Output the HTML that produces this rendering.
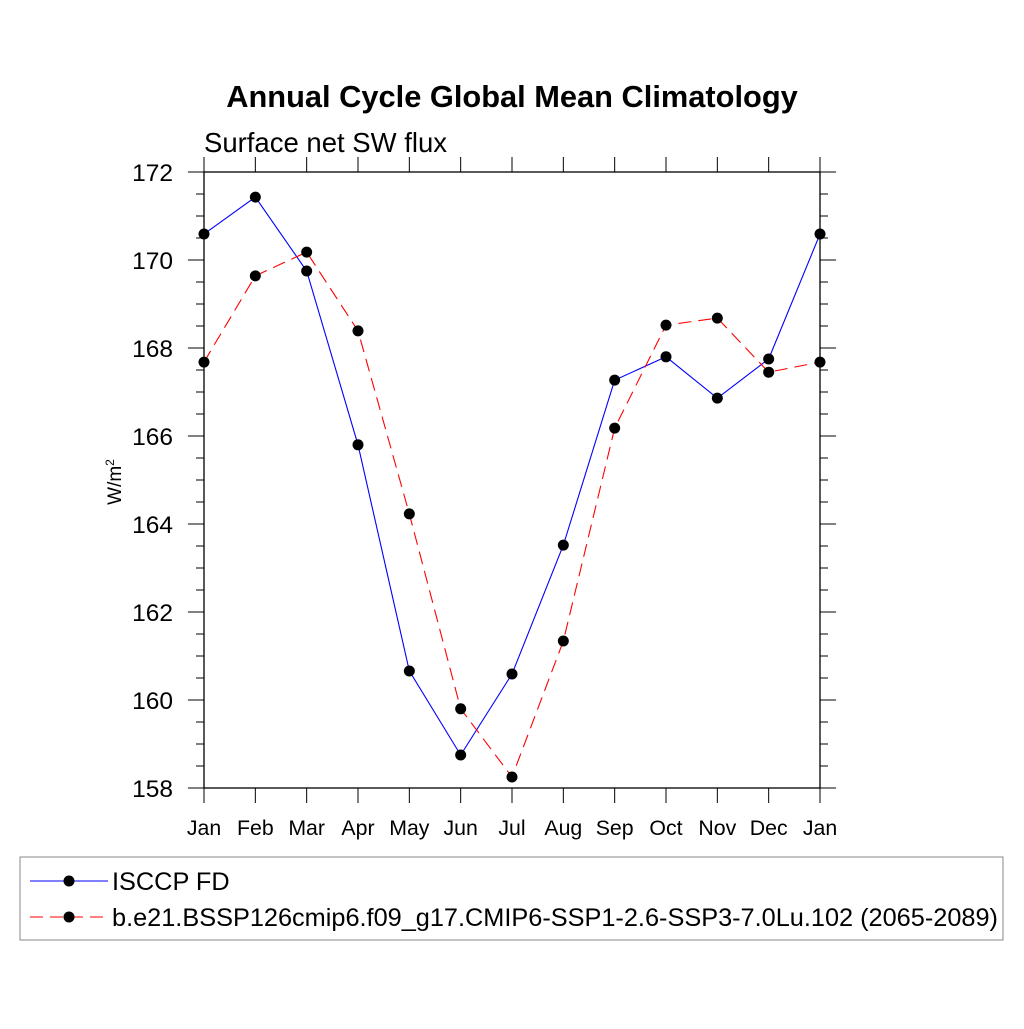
<!DOCTYPE html>
<html><head><meta charset="utf-8"><style>
body{margin:0;background:#fff}
svg text{font-family:"Liberation Sans",sans-serif}
</style></head><body>
<svg id="c" width="1024" height="1024" xmlns="http://www.w3.org/2000/svg">
<text x="512" y="107" text-anchor="middle" font-size="30.8" font-weight="bold">Annual Cycle Global Mean Climatology</text>
<text x="204" y="152" font-size="27.5">Surface net SW flux</text>
<text transform="translate(121,482) rotate(-90)" text-anchor="middle" font-size="19">W/m<tspan dy="-7" font-size="12">2</tspan></text>
<g id="axes"></g><g id="series"></g>
<rect x="20" y="857" width="983" height="83" fill="none" stroke="#888"/>
<g>
<line x1="30" y1="881" x2="108" y2="881" stroke="#00f"/><circle cx="69" cy="881" r="5.5" fill="#000"/>
<text x="112" y="890" font-size="25.3">ISCCP FD</text></g>
<g>
<line x1="30" y1="917" x2="108" y2="917" stroke="#f00" stroke-dasharray="13,7"/><circle cx="69" cy="917" r="5.5" fill="#000"/>
<text x="112" y="926" font-size="25.3">b.e21.BSSP126cmip6.f09_g17.CMIP6-SSP1-2.6-SSP3-7.0Lu.102 (2065-2089)</text></g>
</svg>
<script>
const months=["Jan","Feb","Mar","Apr","May","Jun","Jul","Aug","Sep","Oct","Nov","Dec","Jan"];
const obsValues=[170.59,171.43,169.75,165.8,160.66,158.75,160.59,163.52,167.27,167.8,166.86,167.75,170.59];
const modelValues=[167.68,169.64,170.18,168.39,164.23,159.8,158.25,161.34,166.18,168.52,168.68,167.45,167.68];
const yTicks=[158,160,162,164,166,168,170,172];
const L=204,R=820,T=172,B=788,yMin=158,yMax=172;
const xs=i=>L+i*(R-L)/(months.length-1);
const ys=v=>B-(v-yMin)/(yMax-yMin)*(B-T);
const NS="http://www.w3.org/2000/svg";
function mk(t,a,p){const e=document.createElementNS(NS,t);for(const k in a)e.setAttribute(k,a[k]);p.appendChild(e);return e;}
const ax=document.getElementById('axes');
const fr=mk('rect',{x:L,y:T,width:R-L,height:B-T,fill:'none',stroke:'#000','stroke-width':1.3},ax);


for(let v=yMin;v<=yMax+1e-9;v+=0.5){
  const y=ys(v),maj=Math.abs(v-Math.round(v/2)*2)<1e-6,len=maj?16:8;
  mk('line',{x1:L-len,y1:y,x2:L,y2:y,stroke:'#000'},ax);
  mk('line',{x1:R,y1:y,x2:R+len,y2:y,stroke:'#000'},ax);
}
yTicks.forEach(v=>{const t=mk('text',{x:L-31,y:ys(v)+9,'text-anchor':'end','font-size':24.5},ax);t.textContent=v;

});
months.forEach((m,i)=>{const x=xs(i);
  mk('line',{x1:x,y1:B,x2:x,y2:B+15,stroke:'#000'},ax);
  mk('line',{x1:x,y1:T-15,x2:x,y2:T,stroke:'#000'},ax);
  const t=mk('text',{x:x,y:B+47,'text-anchor':'middle','font-size':21.3},ax);t.textContent=m;
  
  });
const sg=document.getElementById('series');
function series(vals,col,dash,name){
  const g=mk('g',{},sg);
  
  
  const a={points:vals.map((v,i)=>xs(i)+','+ys(v)).join(' '),fill:'none',stroke:col,'stroke-width':1.1};
  if(dash)a['stroke-dasharray']=dash;
  mk('polyline',a,g);
  vals.forEach((v,i)=>{const c=mk('circle',{cx:xs(i),cy:ys(v),r:5.5,fill:'#000'},g);
    
    });
}
series(obsValues,'#00f',null,'series-isccp');
series(modelValues,'#f00','13,7','series-model');
</script>
</body></html>
